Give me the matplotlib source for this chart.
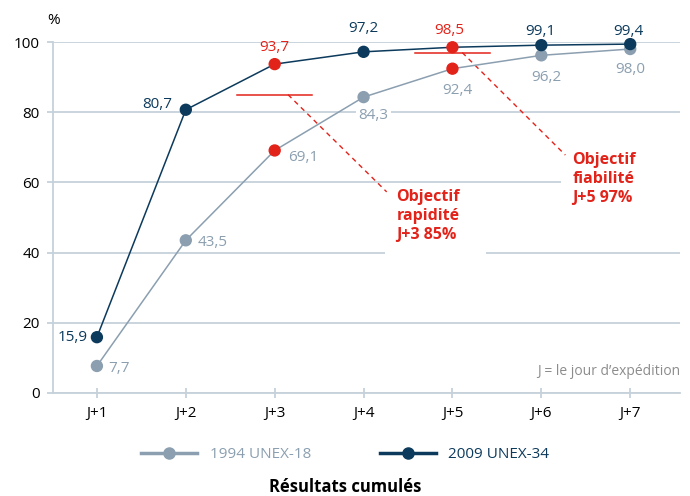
import numpy as np
import matplotlib.pyplot as plt
from matplotlib.lines import Line2D
from matplotlib.patches import Rectangle

plt.rcParams['font.family'] = ['Open Sans', 'DejaVu Sans']

days = ['J+1', 'J+2', 'J+3', 'J+4', 'J+5', 'J+6', 'J+7']
unex_1994 = [7.7, 43.5, 69.1, 84.3, 92.4, 96.2, 98.0]
unex_2009 = [15.9, 80.7, 93.7, 97.2, 98.5, 99.1, 99.4]
highlight = [2, 4]          # J+3 and J+5
goal_days = [3, 5]
goal_values = [85, 97]
goal_texts = ['Objectif\nrapidité\nJ+3 85%', 'Objectif\nfiabilité\nJ+5 97%']

NAVY = '#0c3a5c'
GRAY = '#8b9fb0'
RED = '#e2231a'
GRID = '#c6d1da'

x = np.arange(1, len(days) + 1)

fig = plt.figure(figsize=(6.9, 4.96), dpi=100)
ax = fig.add_axes([53/690, 1 - 393/496, 627/690, 351/496])
ax.set_axisbelow(True)

ax.plot(x, unex_1994, color=GRAY, lw=1.1, zorder=3)
ax.plot(x, unex_2009, color=NAVY, lw=1.1, zorder=3)
c94 = [RED if i in highlight else GRAY for i in range(len(x))]
c09 = [RED if i in highlight else NAVY for i in range(len(x))]
ax.scatter(x, unex_1994, s=62, c=c94, zorder=4, clip_on=False)
ax.scatter(x, unex_2009, s=62, c=c09, zorder=5, clip_on=False)


def fmt(v):
    return f"{v:.1f}".replace('.', ',')


box = dict(facecolor='white', edgecolor='none', pad=2)
off_94 = [(8, -1.5, 'left'), (8.6, -1.5, 'left'), (9.4, -5, 'left'), (7, -13, 'center'),
          (3.6, -16, 'center'), (3.6, -16, 'center'), (0, -14.5, 'center')]
off_09 = [(-6.5, 0, 'right'), (-9.4, 3.6, 'right'), (0, 12, 'center'), (0, 16.5, 'center'),
          (-2, 12.2, 'center'), (-1, 10, 'center'), (-1, 9.4, 'center')]
for i in range(len(x)):
    dx, dy, ha = off_94[i]
    ax.annotate(fmt(unex_1994[i]), (x[i], unex_1994[i]), xytext=(dx, dy), textcoords='offset points',
                ha=ha, va='center', fontsize=11, color=GRAY, zorder=2.5,
                bbox=box if i == 3 else None)
    dx, dy, ha = off_09[i]
    col = RED if i in highlight else NAVY
    ax.annotate(fmt(unex_2009[i]), (x[i], unex_2009[i]), xytext=(dx, dy), textcoords='offset points',
                ha=ha, va='center', fontsize=11, color=col, zorder=2.5)

# objectives
for d, g in zip(goal_days, goal_values):
    ax.plot([d - 0.42, d + 0.42], [g, g], color=RED, lw=1.1, zorder=2.6)

ax.plot([3.15, 4.26], [85, 57.3], color=RED, lw=1, ls=(0, (3.5, 3)), zorder=2.6)
ax.plot([5.11, 6.27], [97, 67.8], color=RED, lw=1, ls=(0, (3.5, 3)), zorder=2.6)

# white patches breaking the gridlines behind the objective notes
ax.add_patch(Rectangle((4.24, 36), 1.14, 8, facecolor='white', edgecolor='none', zorder=1))
ax.add_patch(Rectangle((6.22, 56), 1.5, 8, facecolor='white', edgecolor='none', zorder=1))

ax.text(4.37, 58, goal_texts[0], ha='left', va='top', fontsize=11.5, fontweight='bold',
        color=RED, linespacing=1.25, zorder=6)
ax.text(6.35, 68.6, goal_texts[1], ha='left', va='top', fontsize=11.5, fontweight='bold',
        color=RED, linespacing=1.25, zorder=6)

ax.text(7.56, 6, 'J = le jour d\u2019expédition', ha='right', va='center', fontsize=10, color='#8c8c8c')

ax.set_xlim(0.506, 7.56)
ax.set_ylim(0, 100)
ax.set_xticks(x)
ax.set_xticklabels(days)
ax.set_yticks(range(0, 101, 20))
ax.grid(axis='y', color=GRID, lw=1.3)
for s in ['top', 'right']:
    ax.spines[s].set_visible(False)
for s in ['left', 'bottom']:
    ax.spines[s].set_color(GRID)
    ax.spines[s].set_linewidth(1.3)
ax.tick_params(axis='y', color=GRID, length=4.5, width=1.3, pad=5, labelsize=11)
ax.tick_params(axis='x', color=GRID, length=7, width=1.3, direction='inout', pad=6, labelsize=11)

fig.text(54/690, 1 - 21/496, '%', ha='center', va='center', fontsize=11)

handles = [Line2D([], [], color=GRAY, lw=2.5, marker='o', ms=8),
           Line2D([], [], color=NAVY, lw=2.5, marker='o', ms=8)]
fig.legend(handles, ['1994 UNEX-18', '2009 UNEX-34'], loc='center', bbox_to_anchor=(0.5, 1 - 455/496),
           ncol=2, frameon=False, fontsize=11, handlelength=3.7, columnspacing=4.5, labelcolor='linecolor')

fig.text(0.5, 1 - 487/496, 'Résultats cumulés', ha='center', va='center', fontsize=12, fontweight='bold')

fig.savefig('out.png', dpi=100)
